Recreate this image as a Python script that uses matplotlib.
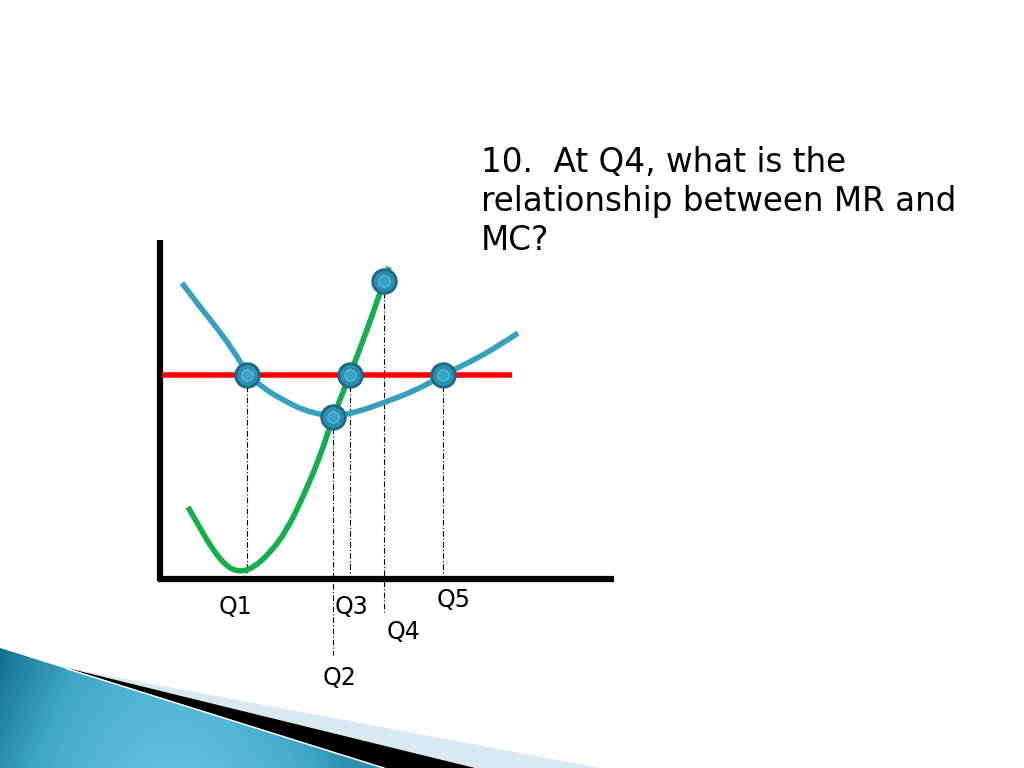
import numpy as np
import matplotlib.pyplot as plt
from matplotlib.patches import Polygon, PathPatch
from matplotlib.path import Path
from matplotlib.colors import LinearSegmentedColormap

# curves, in pixel coords (x right, y down)
atc_x = [182, 200, 217, 233, 247, 263, 283, 303, 323, 337, 357, 383, 417, 443, 470, 497, 518]
atc_y = [283, 307, 328, 350, 373, 388, 400, 410, 415, 416, 412, 403, 390, 375, 362, 347, 333]
mc_x = [188, 200, 213, 227, 240, 253, 270, 287, 303, 320, 333, 350, 367, 380, 389]
mc_y = [507, 528, 550, 567, 572, 568, 553, 530, 497, 457, 417, 375, 330, 293, 267]
mr_x = [162, 512]
mr_y = [375, 375]

# intersection points (x, y) and how far down their guide line goes
pts_x = [247, 333, 350, 384, 443]
pts_y = [375, 417, 375, 281, 375]
guide_end = [575, 655, 575, 612, 575]

q_labels = ['Q1', 'Q2', 'Q3', 'Q4', 'Q5']
q_pos = [(235, 607), (340, 678), (352, 607), (403, 632), (454, 600)]

title_lines = ['10.  At Q4, what is the', 'relationship between MR and', 'MC?']


def smooth_path(xs, ys):
    # chain of quadratic beziers using the read points as control points
    p = list(zip(xs, ys))
    verts = [p[0]]
    codes = [Path.MOVETO]
    for i in range(1, len(p) - 1):
        if i < len(p) - 2:
            end = ((p[i][0] + p[i + 1][0]) / 2, (p[i][1] + p[i + 1][1]) / 2)
        else:
            end = p[i + 1]
        verts += [p[i], end]
        codes += [Path.CURVE3, Path.CURVE3]
    return Path(verts, codes)


fig = plt.figure(figsize=(10.24, 7.68), dpi=100)
ax = fig.add_axes([0, 0, 1, 1])
ax.set_xlim(0, 1024)
ax.set_ylim(768, 0)
ax.axis('off')

# bottom-left decoration
grad = np.linspace(0, 1, 256)
gx, gy = np.meshgrid(grad, grad)
val = np.sin(np.pi * np.clip(gx * 1.1, 0, 1)) * 0.7 + gy * 0.3
cmap = LinearSegmentedColormap.from_list('teal', ['#12708c', '#3ea6c8', '#62bedd'])
img = ax.imshow(val, cmap=cmap, extent=[0, 383, 768, 648], aspect='auto', zorder=1)
teal = Polygon([(0, 648), (383, 768), (0, 768)], closed=True, facecolor='none', edgecolor='none')
ax.add_patch(teal)
img.set_clip_path(teal)
ax.add_patch(Polygon([(67, 668), (600, 768), (475, 768)], closed=True, facecolor='#d8e9f2', edgecolor='none', zorder=1))
ax.add_patch(Polygon([(67, 668), (475, 768), (386, 768)], closed=True, facecolor='black', edgecolor='none', zorder=1))
ax.plot([67, 383], [669, 768], color='white', lw=0.8, zorder=2)

# axes of the sketch
ax.plot([160, 160], [240, 581], color='black', lw=4.5, solid_capstyle='butt', zorder=3)
ax.plot([158, 614], [579, 579], color='black', lw=4.5, solid_capstyle='butt', zorder=3)

# guide lines
for x, y, e in zip(pts_x, pts_y, guide_end):
    ax.plot([x, x], [y, e], color='black', lw=0.8, linestyle=(0, (5, 2, 1, 2)), zorder=2)

ax.plot(mr_x, mr_y, color='#ff0000', lw=4, solid_capstyle='butt', zorder=4)
ax.add_patch(PathPatch(smooth_path(atc_x, atc_y), facecolor='none', edgecolor='#35a0c0',
                       lw=4, capstyle='butt', zorder=4))
ax.add_patch(PathPatch(smooth_path(mc_x, mc_y), facecolor='none', edgecolor='#10b04a',
                       lw=4, capstyle='butt', zorder=4))

ax.plot(pts_x, pts_y, 'o', ms=17, mfc='#2b8fb0', mec='#1d6985', mew=2, zorder=5)
ax.plot(pts_x, pts_y, 'o', ms=8, mfc='#34a3c6', mec='#5fb9d6', mew=1, zorder=6)

for lab, (x, y) in zip(q_labels, q_pos):
    ax.text(x, y, lab, fontsize=17, ha='center', va='center',
            family=['Liberation Sans Narrow', 'DejaVu Sans'], zorder=6)

for i, line in enumerate(title_lines):
    ax.text(481, 172 + 39 * i, line, fontsize=23.5, ha='left', va='baseline',
            family='DejaVu Sans', zorder=6)

fig.savefig('out.png', dpi=100)
